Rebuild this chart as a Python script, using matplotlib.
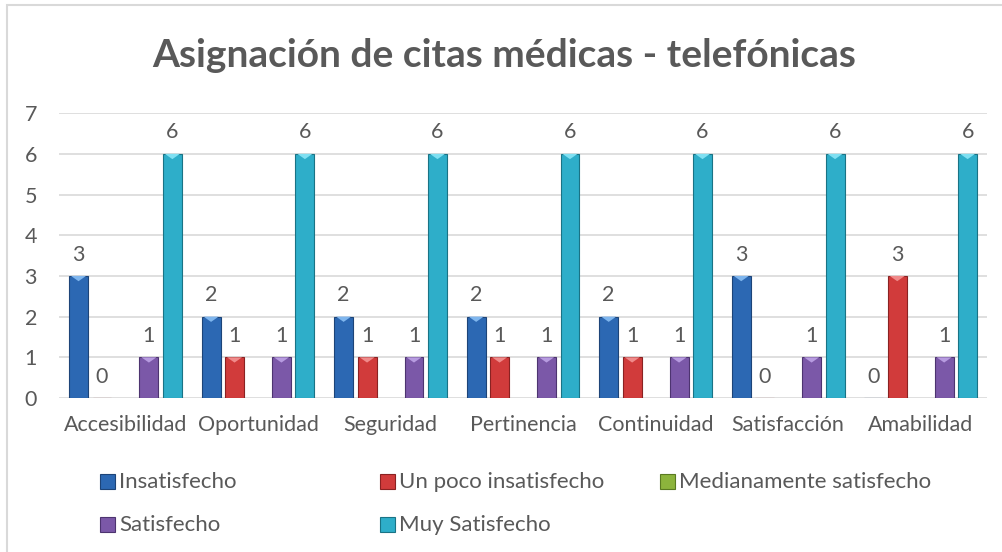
import matplotlib
matplotlib.use("Agg")
import matplotlib.pyplot as plt
import numpy as np
from matplotlib.patches import Polygon, Rectangle

categorias = ['Accesibilidad', 'Oportunidad', 'Seguridad', 'Pertinencia',
              'Continuidad', 'Satisfacción', 'Amabilidad']
series = ['Insatisfecho', 'Un poco insatisfecho', 'Medianamente satisfecho',
          'Satisfecho', 'Muy Satisfecho']
insatisfecho = [3, 2, 2, 2, 2, 3, 0]
poco_insatisfecho = [0, 1, 1, 1, 1, 0, 3]
medianamente = [None] * 7
satisfecho = [1, 1, 1, 1, 1, 1, 1]
muy_satisfecho = [6, 6, 6, 6, 6, 6, 6]
valores = [insatisfecho, poco_insatisfecho, medianamente, satisfecho, muy_satisfecho]

colores = ['#2c68b3', '#d13b3b', '#8cb43c', '#7b58a8', '#2eaec9']
bordes = ['#1d4478', '#8a2222', '#5a7a22', '#4d3470', '#1a7385']
brillos = ['#7fb6ee', '#f08a8a', '#c8e87c', '#b79be0', '#7fe0f2']
gris = '#595959'

plt.rcParams['font.family'] = ['Lato', 'DejaVu Sans']

fig = plt.figure(figsize=(10.03, 5.52), dpi=100)
ax = fig.add_axes([0.059, 0.279, 0.925, 0.516])

x = np.arange(len(categorias))
paso = 0.177
ancho = 0.143
for i, (nombre, vals) in enumerate(zip(series, valores)):
    pos = x + (i - 2) * paso
    for xi, v in zip(pos, vals):
        if v is None:
            continue
        b = ax.bar(xi, v, width=ancho, color=colores[i], edgecolor=bordes[i],
                   linewidth=0.8, zorder=3)[0]
        if v > 0:
            x0 = b.get_x()
            w = b.get_width()
            h = b.get_height()
            tri = Polygon([[x0 + w * 0.1, h], [x0 + w * 0.9, h],
                           [x0 + w / 2, h - 0.13]], closed=True,
                          color=brillos[i], zorder=4, lw=0)
            ax.add_patch(tri)
        ax.text(xi, v + 0.28, str(v), ha='center', va='bottom',
                fontsize=15.5, color=gris)

ax.set_xlim(-0.5, len(categorias) - 0.5)
ax.set_ylim(0, 7)
ax.set_yticks(range(0, 8))
ax.yaxis.grid(True, color='#d9d9d9', linewidth=1.2, zorder=0)
ax.set_axisbelow(True)
for s in ax.spines.values():
    s.set_visible(False)
ax.tick_params(length=0, labelsize=15.5, colors=gris)
ax.tick_params(axis='x', pad=12)
ax.tick_params(axis='y', pad=16)
ax.set_xticks(x)
ax.set_xticklabels(categorias)

fig.text(0.503, 0.9, 'Asignación de citas médicas - telefónicas',
         ha='center', va='center', fontsize=28, fontweight='bold', color=gris)

# leyenda en 3 columnas de igual ancho, como Excel
col_x = [100, 380, 660]
fila_y = [482, 525]
W, H = 1003, 552
for i, nombre in enumerate(series):
    cx = col_x[i % 3]
    cy = fila_y[i // 3]
    fig.patches.append(Rectangle((cx / W, (H - cy - 7) / H), 15 / W, 15 / H,
                                 transform=fig.transFigure, facecolor=colores[i],
                                 edgecolor=bordes[i], lw=0.8))
    fig.text((cx + 19) / W, (H - cy) / H, nombre, ha='left', va='center',
             fontsize=16, color=gris)

# borde del grafico
fig.patches.append(Rectangle((7 / W, -0.1), 1.2, (H - 5) / H + 0.1,
                             transform=fig.transFigure, fill=False,
                             edgecolor='#d9d9d9', lw=1.5))

fig.savefig('out.png', dpi=100)
